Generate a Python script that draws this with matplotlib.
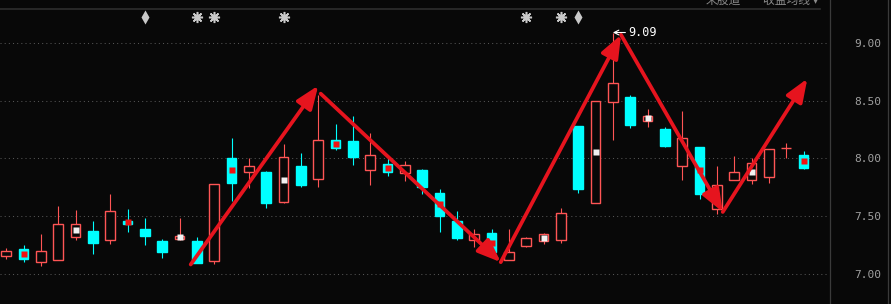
"""
plot.py
=======
Daily K-line (candlestick) chart with hand-drawn trend arrows, dark terminal style.

Run:
    python plot.py
"""
import matplotlib
matplotlib.use('Agg')
import matplotlib.pyplot as plt
import matplotlib.transforms as mtransforms
from matplotlib.patches import Rectangle
from matplotlib.lines import Line2D

# ── Data (47 sessions) ────────────────────────────────────────
OPEN  = [7.15, 7.21, 7.10, 7.12, 7.32, 7.37, 7.29, 7.455, 7.39, 7.28,
         7.30, 7.28, 7.11, 8.00, 7.88, 7.88, 7.62, 7.93, 7.82, 8.16,
         8.15, 7.90, 7.95, 7.87, 7.90, 7.70, 7.46, 7.29, 7.35, 7.12,
         7.24, 7.28, 7.29, 8.28, 7.61, 8.49, 8.53, 8.32, 8.25, 7.93,
         8.10, 7.56, 7.81, 7.81, 7.84, 8.09, 8.03]
HIGH  = [7.22, 7.25, 7.34, 7.59, 7.55, 7.46, 7.69, 7.56, 7.48, 7.30,
         7.48, 7.32, 7.78, 8.18, 8.00, 7.89, 8.12, 8.05, 8.55, 8.30,
         8.37, 8.22, 8.00, 7.98, 7.91, 7.73, 7.54, 7.39, 7.39, 7.39,
         7.32, 7.355, 7.57, 8.28, 8.50, 9.09, 8.55, 8.43, 8.27, 8.41,
         8.10, 7.93, 8.02, 8.00, 8.08, 8.13, 8.06]
LOW   = [7.13, 7.10, 7.07, 7.12, 7.29, 7.17, 7.26, 7.36, 7.25, 7.14,
         7.295, 7.09, 7.08, 7.63, 7.74, 7.57, 7.615, 7.75, 7.75, 8.07,
         7.94, 7.77, 7.85, 7.80, 7.69, 7.36, 7.29, 7.23, 7.18, 7.116,
         7.23, 7.26, 7.27, 7.70, 7.61, 8.16, 8.26, 8.27, 8.10, 7.815,
         7.65, 7.52, 7.81, 7.78, 7.79, 8.00, 7.91]
CLOSE = [7.20, 7.13, 7.20, 7.43, 7.43, 7.27, 7.54, 7.435, 7.33, 7.19,
         7.33, 7.09, 7.78, 7.79, 7.93, 7.61, 8.01, 7.77, 8.16, 8.09,
         8.01, 8.03, 7.88, 7.94, 7.75, 7.50, 7.31, 7.34, 7.19, 7.185,
         7.31, 7.34, 7.53, 7.73, 8.50, 8.65, 8.29, 8.37, 8.11, 8.18,
         7.69, 7.77, 7.88, 7.96, 8.08, 8.09, 7.92]

PRICE_TICKS = [7.00, 7.50, 8.00, 8.50, 9.00]
PEAK_IDX    = 35          # session with the 9.09 high
RED_MARK    = [1, 7, 13, 19, 22, 25, 28, 40, 46]
WHITE_MARK  = [4, 10, 16, 31, 34, 37, 43]
STAR_IDX    = [11, 12, 16, 30, 32]
DIAMOND_IDX = [8, 33]

# trend arrows drawn on top: (from idx, from price, to idx, to price)
ARROWS = [
    (10.64, 7.08, 18.00, 8.63),
    (18.14, 8.56, 28.53, 7.10),
    (28.53, 7.10, 35.47, 9.07),
    (35.47, 9.07, 41.34, 7.535),
    (41.34, 7.535, 46.22, 8.69),
]
HEADER = ["来股道", "收益均线 ▾"]

# ── Style ─────────────────────────────────────────────────────
BG        = '#080808'
UP        = '#ff5555'
DOWN      = '#00ffff'
ARROW_RED = '#e6141e'
BODY_W    = 0.56

plt.rcParams['font.family'] = ['DejaVu Sans', 'Noto Sans CJK SC']

W, H = 891, 304
fig = plt.figure(figsize=(W / 100, H / 100), dpi=100, facecolor=BG)
ax = fig.add_axes([0, 0, 829 / W, 1])
ax.set_facecolor(BG)
for s in ax.spines.values():
    s.set_visible(False)

# candles
for i, (o, h, l, c) in enumerate(zip(OPEN, HIGH, LOW, CLOSE)):
    up = c >= o
    col = UP if up else DOWN
    ax.vlines(i, l, h, color=col, lw=0.8, zorder=2)
    ax.add_patch(Rectangle((i - BODY_W / 2, min(o, c)), BODY_W, abs(c - o),
                           facecolor=BG if up else DOWN, edgecolor=col,
                           lw=1.0, zorder=3))

# signal squares at body centre
for i in WHITE_MARK:
    ax.plot(i, (OPEN[i] + CLOSE[i]) / 2, 's', ms=4.5, color='#f2f2f2',
            mec='none', zorder=4)
for i in RED_MARK:
    ax.plot(i, (OPEN[i] + CLOSE[i]) / 2, 's', ms=4.5, color='#f01010',
            mec='none', zorder=4)

# top icons
top = mtransforms.blended_transform_factory(ax.transData, ax.transAxes)
for i in STAR_IDX:
    ax.plot(i, 0.943, marker=(8, 2, 0), ms=8, mew=1.1, color='#c8c8c8',
            transform=top, clip_on=False)
    ax.plot(i, 0.943, 's', ms=4, color='#c8c8c8', mec='none',
            transform=top, clip_on=False)
for i in DIAMOND_IDX:
    ax.plot(i, 0.943, 'd', ms=7, color='#c8c8c8', mec='none',
            transform=top, clip_on=False)

# trend arrows
for x0, y0, x1, y1 in ARROWS:
    ax.annotate('', xy=(x1, y1), xytext=(x0, y0),
                arrowprops=dict(arrowstyle='-|>,head_length=1.4,head_width=0.55',
                                color=ARROW_RED, lw=2.7, shrinkA=0, shrinkB=0,
                                mutation_scale=10),
                zorder=6)

# peak label
ax.annotate(f'{HIGH[PEAK_IDX]:.2f}', xy=(PEAK_IDX, HIGH[PEAK_IDX]),
            xytext=(11, 0), textcoords='offset points', va='center', ha='left',
            color='white', fontsize=8.5, family='DejaVu Sans Mono',
            arrowprops=dict(arrowstyle='->', color='white', lw=0.8,
                            shrinkA=0, shrinkB=0),
            zorder=7)

# axes, grid, price labels on the right
ax.set_xlim(-0.364, 47.47)
ax.set_ylim(6.7375, 9.3718)
ax.set_xticks([])
ax.set_yticks(PRICE_TICKS)
ax.set_yticklabels([f'{v:.2f}' for v in PRICE_TICKS])
ax.yaxis.tick_right()
ax.tick_params(axis='y', length=0, pad=37.5, labelsize=8, labelcolor='#a0a0a0')
for lab in ax.get_yticklabels():
    lab.set_horizontalalignment('right')
    lab.set_fontfamily('DejaVu Sans Mono')
ax.grid(axis='y', color='#555555', linestyle=(0, (1, 3)), linewidth=0.75)
ax.set_axisbelow(True)

# frame lines
fig.add_artist(Line2D([0, 820 / W], [1 - 9.3 / H] * 2, color='#2e2e2e', lw=1.2,
                      transform=fig.transFigure))
fig.add_artist(Line2D([829.5 / W] * 2, [0, 1], color='#3a3a3a', lw=0.9,
                      transform=fig.transFigure))
fig.add_artist(Line2D([887.5 / W] * 2, [0, 1], color='#3a3a3a', lw=0.9,
                      transform=fig.transFigure))

# header (cut off at the top edge, as in the source screenshot)
fig.text(723 / W, 1.0, HEADER[0], ha='center', va='center', fontsize=8.5,
         color='#8a8a8a', family=['Noto Sans CJK SC', 'DejaVu Sans'])
fig.text(763 / W, 1.0, HEADER[1], ha='left', va='center', fontsize=8.5,
         color='#8a8a8a', family=['Noto Sans CJK SC', 'DejaVu Sans'])

fig.savefig('out.png', dpi=100, facecolor=BG)
plt.close(fig)
